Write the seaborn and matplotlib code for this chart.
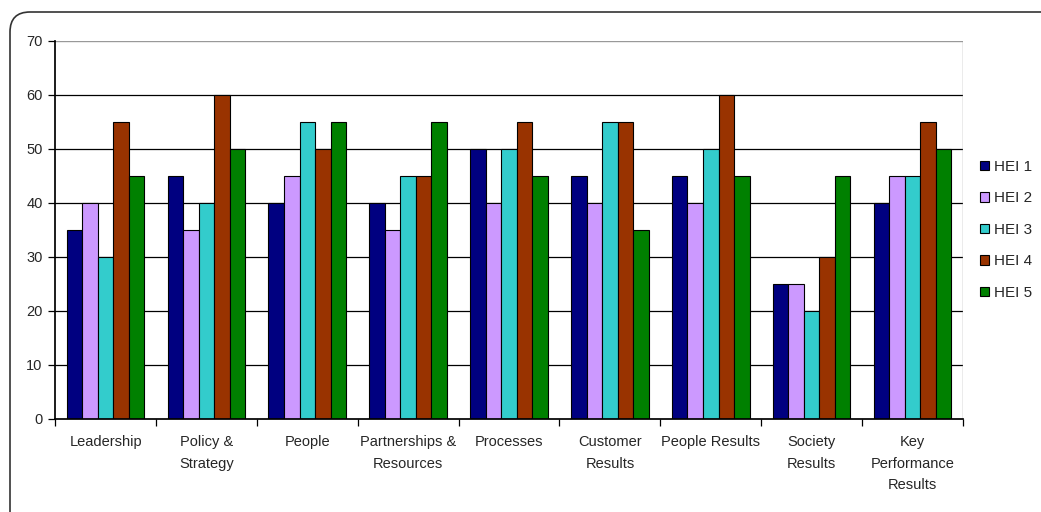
import pandas as pd
import matplotlib.pyplot as plt
import seaborn as sns
from matplotlib.patches import FancyBboxPatch
from matplotlib.transforms import IdentityTransform

categories = ['Leadership', 'Policy &\nStrategy', 'People', 'Partnerships &\nResources',
              'Processes', 'Customer\nResults', 'People Results', 'Society\nResults',
              'Key\nPerformance\nResults']
hei1 = [35, 45, 40, 40, 50, 45, 45, 25, 40]
hei2 = [40, 35, 45, 35, 40, 40, 40, 25, 45]
hei3 = [30, 40, 55, 45, 50, 55, 50, 20, 45]
hei4 = [55, 60, 50, 45, 55, 55, 60, 30, 55]
hei5 = [45, 50, 55, 55, 45, 35, 45, 45, 50]
series = ['HEI 1', 'HEI 2', 'HEI 3', 'HEI 4', 'HEI 5']
colors = ['#000080', '#CC99FF', '#33CCCC', '#993300', '#008000']

rows = []
for name, vals in zip(series, [hei1, hei2, hei3, hei4, hei5]):
    for cat, v in zip(categories, vals):
        rows.append({'category': cat, 'series': name, 'value': v})
df = pd.DataFrame(rows)

sns.set_theme(style='white')
plt.rcParams['font.family'] = ['Liberation Sans', 'DejaVu Sans']

fig = plt.figure(figsize=(10.41, 5.12), dpi=100)
ax = fig.add_axes([0.053, 0.182, 0.872, 0.738])

sns.barplot(data=df, x='category', y='value', hue='series', order=categories,
            hue_order=series, palette=colors, width=0.77, edgecolor='black',
            linewidth=0.8, saturation=1, ax=ax)

ax.set_ylim(0, 70)
ax.set_yticks(range(0, 71, 10))
ax.set_xlim(-0.5, len(categories) - 0.5)
for y in range(10, 70, 10):
    ax.axhline(y, color='black', linewidth=0.9, zorder=0)
ax.axhline(70, color='#999999', linewidth=1, zorder=0)
ax.set_xlabel('')
ax.set_ylabel('')

for s in ['top', 'right']:
    ax.spines[s].set_visible(False)
ax.spines['left'].set_color('black')
ax.spines['bottom'].set_color('black')
ax.axvline(len(categories) - 0.5, color='#999999', linewidth=1)

ax.tick_params(axis='y', direction='out', length=5, width=0.9, color='black',
               labelsize=10.5, pad=4, left=True)
ax.tick_params(axis='x', length=0, labelsize=10.5, pad=12)
ax.set_xticks(range(len(categories)))
ax.set_xticklabels(categories, linespacing=1.65)
ax.set_xticks([i + 0.5 for i in range(-1, len(categories))], minor=True)
ax.tick_params(axis='x', which='minor', direction='out', length=5, width=0.9,
               color='black', bottom=True)

ax.legend(loc='center left', bbox_to_anchor=(1.012, 0.50), frameon=False,
          fontsize=11, handlelength=0.6, handleheight=0.6, handletextpad=0.3,
          labelspacing=1.15, borderaxespad=0)

frame = FancyBboxPatch((10, -30), 1060, 530, transform=IdentityTransform(),
                       boxstyle='round,pad=0,rounding_size=20', fill=False,
                       edgecolor='#333333', linewidth=1.2)
fig.patches.append(frame)

fig.savefig('out.png', dpi=100)
